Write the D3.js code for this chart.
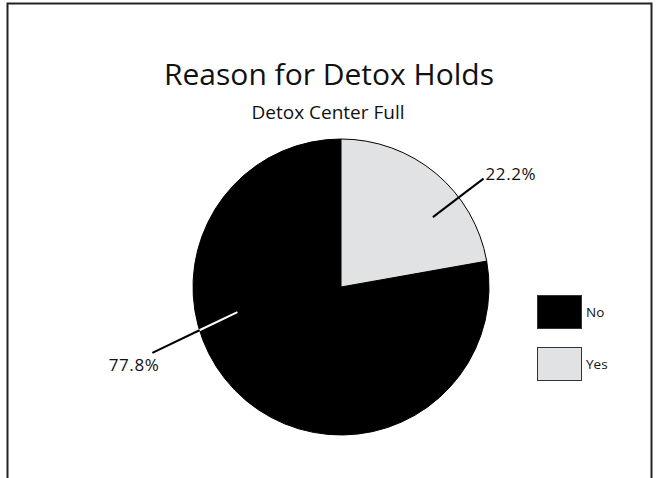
<!DOCTYPE html>
<html>
<head>
<meta charset="utf-8">
<script src="https://cdn.jsdelivr.net/npm/d3@7"></script>
<style>
  html, body { margin: 0; padding: 0; background: #fff; }
  svg { display: block; font-family: "Open Sans", "Noto Sans", sans-serif; }
</style>
</head>
<body>
<svg id="chart" width="657" height="478"></svg>
<script>
// ---- data ----
const categories = ["No", "Yes"];
const values = [77.8, 22.2];
const valueLabels = ["77.8%", "22.2%"];
const colors = ["#000000", "#e1e2e4"];
const title = "Reason for Detox Holds";
const subtitle = "Detox Center Full";

// ---- layout ----
const W = 657, H = 478;
const cx = 341, cy = 287, R = 148;
const svg = d3.select("#chart");

// frame
svg.append("rect")
  .attr("x", 7.5).attr("y", 3.5).attr("width", 644).attr("height", 500)
  .attr("fill", "none").attr("stroke", "#222").attr("stroke-width", 2);

svg.append("text").attr("x", 329).attr("y", 85)
  .attr("text-anchor", "middle").attr("font-size", 30).attr("fill", "#111")
  .text(title);
svg.append("text").attr("x", 328).attr("y", 119)
  .attr("text-anchor", "middle").attr("font-size", 19).attr("fill", "#111")
  .text(subtitle);

const data = categories.map((c, i) => ({ cat: c, value: values[i], label: valueLabels[i], color: colors[i] }));
const total = d3.sum(values);
const yesFrac = values[1] / total;

const pie = d3.pie().sort(null).value(d => d.value)
  .startAngle(2 * Math.PI * yesFrac)
  .endAngle(2 * Math.PI * yesFrac + 2 * Math.PI);
const arcs = pie(data);
const arc = d3.arc().innerRadius(0).outerRadius(R);

const g = svg.append("g").attr("transform", `translate(${cx},${cy})`);
g.selectAll("path").data(arcs).join("path")
  .attr("d", arc)
  .attr("fill", d => d.data.color)
  .attr("stroke", "#000").attr("stroke-width", 1);

// leader lines: fraction of slice + radius factors
const leader = {
  "No":  { f0: 0.63, r0: 0.72, f1: 0.61, r1: 1.35, dx: 7, dy: 18, anchor: "end" },
  "Yes": { f0: 0.66, r0: 0.78, f1: 0.66, r1: 1.21, dx: 2, dy: 1, anchor: "start" }
};
function pt(a, r) { return [r * Math.sin(a), -r * Math.cos(a)]; }
arcs.forEach(d => {
  const L = leader[d.data.cat];
  const span = d.endAngle - d.startAngle;
  const a0 = d.startAngle + L.f0 * span, a1 = d.startAngle + L.f1 * span;
  const p0 = pt(a0, L.r0 * R), p1 = pt(a1, L.r1 * R);
  const dx = p1[0] - p0[0], dy = p1[1] - p0[1];
  const A = dx * dx + dy * dy, B = 2 * (p0[0] * dx + p0[1] * dy), C = p0[0] * p0[0] + p0[1] * p0[1] - R * R;
  const t = (-B + Math.sqrt(B * B - 4 * A * C)) / (2 * A);
  const pe = [p0[0] + t * dx, p0[1] + t * dy];
  const inner = d.data.color === "#000000" ? "#fff" : "#000";
  g.append("line").attr("x1", p0[0]).attr("y1", p0[1]).attr("x2", pe[0]).attr("y2", pe[1])
    .attr("stroke", inner).attr("stroke-width", 2);
  g.append("line").attr("x1", pe[0]).attr("y1", pe[1]).attr("x2", p1[0]).attr("y2", p1[1])
    .attr("stroke", "#000").attr("stroke-width", 2);
  g.append("text").attr("x", p1[0] + L.dx).attr("y", p1[1] + L.dy)
    .attr("text-anchor", L.anchor).attr("font-size", 17).attr("letter-spacing", 0.6)
    .attr("fill", "#111")
    .text(d.data.label);
});

// legend
const legend = svg.append("g").attr("transform", "translate(537,295)");
const li = legend.selectAll("g").data(data).join("g")
  .attr("transform", (d, i) => `translate(0,${i * 52})`);
li.append("rect").attr("x", 0.5).attr("y", 0.5).attr("width", 44).attr("height", 33)
  .attr("fill", d => d.color).attr("stroke", "#333").attr("stroke-width", 1);
li.append("text").attr("x", 49).attr("y", 22).attr("font-size", 13.5).attr("fill", "#111")
  .text(d => d.cat);
</script>
</body>
</html>
